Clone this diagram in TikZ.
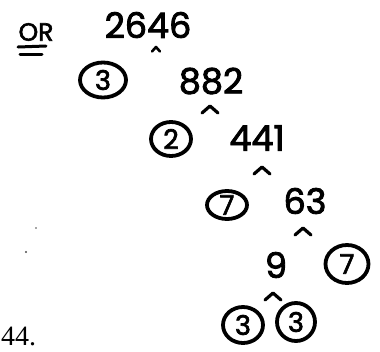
\documentclass[tikz,border=0pt]{standalone}
\usepackage{fontspec}
\setmainfont{Liberation Serif}
\newfontfamily\handfont[FakeBold=2.5]{Poppins}
\usetikzlibrary{shapes.geometric}
\tikzset{
  handnum/.style={font=\handfont\fontsize{35}{35}\selectfont, inner sep=0pt},
  circnum/.style={ellipse, draw, line width=3.8pt, inner sep=0pt,
    font=\handfont\fontsize{27}{27}\selectfont},
  caret/.style={line width=3.2pt, line cap=round, line join=round},
  speck/.style={fill=black!70, draw=none}
}
\begin{document}
\begin{tikzpicture}[x=1pt, y=-1pt]
\useasboundingbox (0,0) rectangle (380,351);
% OR with double underline
\node[font=\handfont\fontsize{25}{25}\selectfont, inner sep=0pt] (orlbl) at (36,32) {OR};
\coordinate (u1a) at (18,47); \coordinate (u1b) at (46,46);
\coordinate (u2a) at (20,54); \coordinate (u2b) at (42,54);
\draw[caret, line width=3pt] (u1a) -- (u1b);
\draw[caret, line width=3pt] (u2a) -- (u2b);
% numbers
\node[handnum] (n2646) at (148,25) {2646};
\node[circnum, minimum width=46pt, minimum height=35pt] (c3a) at (103,80) {3};
\node[handnum] (n882) at (211,81) {882};
\node[circnum, minimum width=40pt, minimum height=34pt] (c2) at (171,139) {2};
\node[handnum] (n441) at (257,138) {441};
\node[circnum, minimum width=40pt, minimum height=28pt] (c7a) at (227,205) {7};
\node[handnum] (n63) at (305,201) {63};
\node[handnum] (n9) at (276,265) {9};
\node[circnum, minimum width=43pt, minimum height=38pt] (c7b) at (347,264) {7};
\node[circnum, minimum width=40pt, minimum height=36pt] (c3b) at (243,325) {3};
\node[circnum, minimum width=38pt, minimum height=38pt] (c3c) at (296,322) {3};
% carets
\coordinate (k1) at (156,49);
\draw[caret, line width=2.6pt] ([shift={(-4,2.5)}]k1) -- ([shift={(0,-2)}]k1) -- ([shift={(4,2.5)}]k1);
\foreach \nm/\cx/\cy in {k2/210/109, k3/262/170, k4/303/231, k5/273/296}{
  \coordinate (\nm) at (\cx,\cy);
  \draw[caret] ([shift={(-8,4)}]\nm) -- ([shift={(0,-3)}]\nm) -- ([shift={(8,4)}]\nm);
}
% printed label
\node[font=\fontsize{28}{28}\selectfont, inner sep=0pt, anchor=west] (lbl) at (1,336) {44.};
% specks
\fill[speck] (36,228) circle (0.9pt);
\fill[speck] (26,252) circle (1.2pt);
\end{tikzpicture}
\end{document}
